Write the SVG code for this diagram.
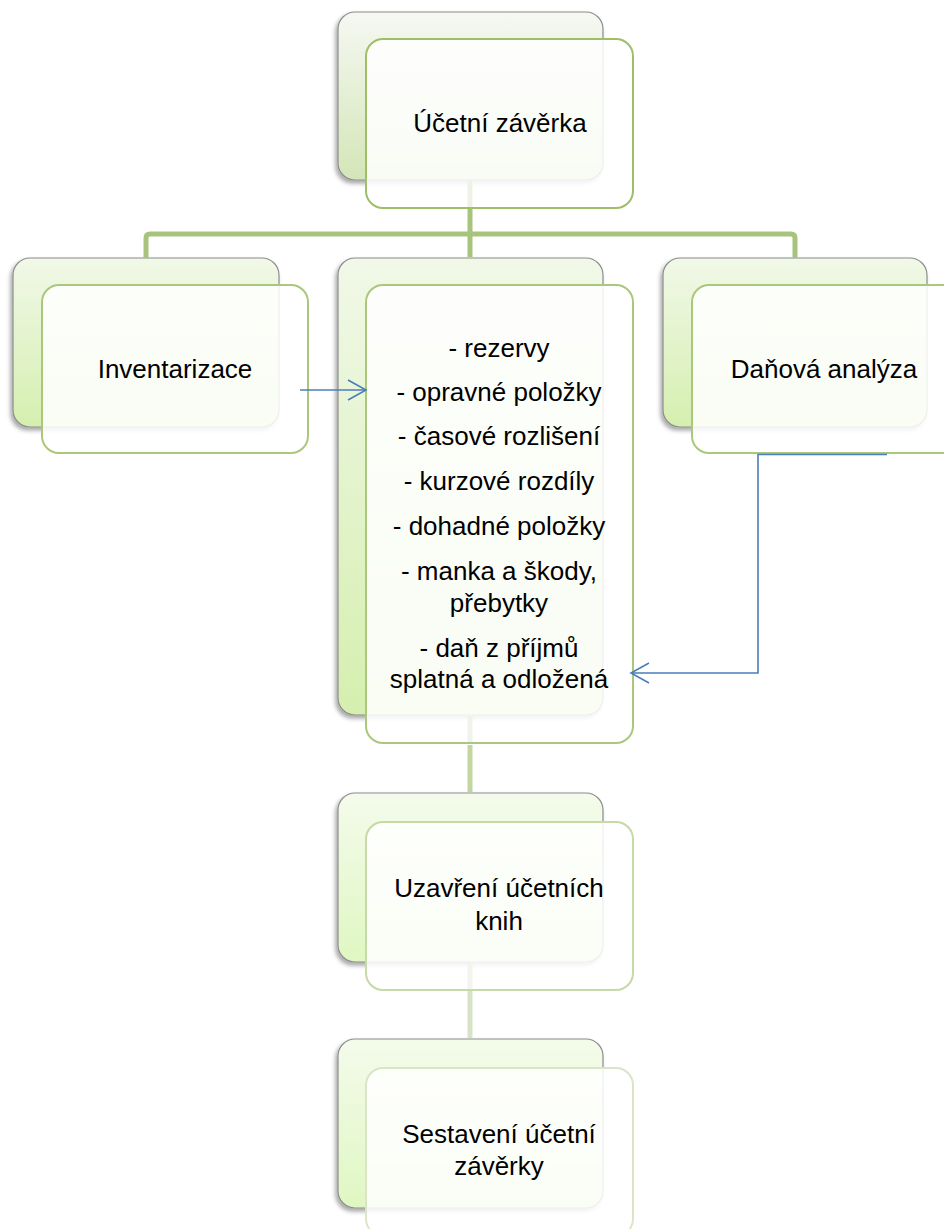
<svg xmlns="http://www.w3.org/2000/svg" width="944" height="1229" viewBox="0 0 944 1229">
<style>
text{font-family:"Liberation Sans",Arial,sans-serif;font-size:26px;fill:#000;text-anchor:middle}
.back{stroke:#8c8c8c;stroke-width:1.2;filter:url(#sh)}
.front{fill:#ffffff;fill-opacity:0.86;stroke-width:2}
.blue{fill:none;stroke:#4a7ebb;stroke-width:1.6}
.trunk{fill:none;stroke-width:5}
</style>
<defs>
<filter id="sh" x="-10%" y="-10%" width="120%" height="125%">
<feDropShadow dx="-2" dy="3" stdDeviation="2" flood-color="#000" flood-opacity="0.35"/>
</filter>
<linearGradient id="g1" x1="0" y1="0" x2="0" y2="1">
<stop offset="0" stop-color="#f6f8f2"/><stop offset="1" stop-color="#d3e6b7"/>
</linearGradient>
<linearGradient id="g2" x1="0" y1="0" x2="0" y2="1">
<stop offset="0" stop-color="#f1f8e8"/><stop offset="1" stop-color="#d5efaf"/>
</linearGradient>
<linearGradient id="g3" x1="0" y1="0" x2="0" y2="1">
<stop offset="0" stop-color="#f4fbeb"/><stop offset="1" stop-color="#dff7c2"/>
</linearGradient>
<marker id="arr" markerUnits="userSpaceOnUse" markerWidth="22" markerHeight="24" refX="19" refY="11" orient="auto">
<path d="M1,1 L19,11 L1,21" fill="none" stroke="#4a7ebb" stroke-width="1.6"/>
</marker>
</defs>
<rect width="944" height="1229" fill="#ffffff"/>
<g id="node-ucetni-zaverka">
<rect class="back" x="338" y="12" width="265" height="168" rx="17" fill="url(#g1)"/>
<rect class="front" x="366" y="39" width="267" height="169" rx="17" stroke="#9fbe68"/>
<text x="500" y="132">Účetní závěrka</text>
</g>
<g id="node-inventarizace">
<rect class="back" x="13" y="258" width="266" height="169" rx="17" fill="url(#g2)"/>
<rect class="front" x="42" y="285" width="266" height="168" rx="17" stroke="#aac87c"/>
<text x="175" y="378">Inventarizace</text>
</g>
<g id="node-stred">
<rect class="back" x="338" y="258" width="265" height="457" rx="17" fill="url(#g2)"/>
<rect class="front" x="366" y="285" width="267" height="458" rx="17" stroke="#aac87c"/>
<text x="499" y="357">- rezervy</text>
<text x="499" y="401">- opravné položky</text>
<text x="499" y="445">- časové rozlišení</text>
<text x="499" y="490">- kurzové rozdíly</text>
<text x="499" y="535">- dohadné položky</text>
<text x="499" y="580">- manka a škody,</text>
<text x="499" y="612">přebytky</text>
<text x="499" y="657">- daň z příjmů</text>
<text x="499" y="688">splatná a odložená</text>
</g>
<g id="node-danova-analyza">
<rect class="back" x="663" y="258" width="264" height="169" rx="17" fill="url(#g2)"/>
<rect class="front" x="692" y="285" width="267" height="168" rx="17" stroke="#aac87c"/>
<text x="824" y="378">Daňová analýza</text>
</g>
<g id="node-uzavreni">
<rect class="back" x="338" y="793" width="265" height="169" rx="17" fill="url(#g3)"/>
<rect class="front" x="366" y="822" width="267" height="168" rx="17" stroke="#c6d9a6"/>
<text x="499" y="897">Uzavření účetních</text>
<text x="499" y="930">knih</text>
</g>
<g id="node-sestaveni">
<rect class="back" x="338" y="1039" width="265" height="169" rx="17" fill="url(#g3)"/>
<rect class="front" x="366" y="1068" width="267" height="168" rx="17" stroke="#d9e5c6"/>
<text x="499" y="1143">Sestavení účetní</text>
<text x="499" y="1175">závěrky</text>
</g>
<g id="connectors">
<path class="trunk" d="M470 181 V207" stroke="#eef2e6"/>
<path class="trunk" d="M470 209 V234 M146 258 V238 Q146 234 150 234 H791 Q795 234 795 238 V258 M470 234 V257" stroke="#a8c47c"/>
<path class="trunk" d="M470 716 V742" stroke="#f0f3ea"/>
<path class="trunk" d="M470 745 V792" stroke="#c3d6a0"/>
<path class="trunk" d="M470 963 V989" stroke="#f2f4ee"/>
<path class="trunk" d="M470 991 V1038" stroke="#d8e2c6"/>
<path class="blue" d="M300 390 H366" marker-end="url(#arr)"/>
<path class="blue" d="M887 454.5 H758 V673 H631" marker-end="url(#arr)"/>
</g>
</svg>
